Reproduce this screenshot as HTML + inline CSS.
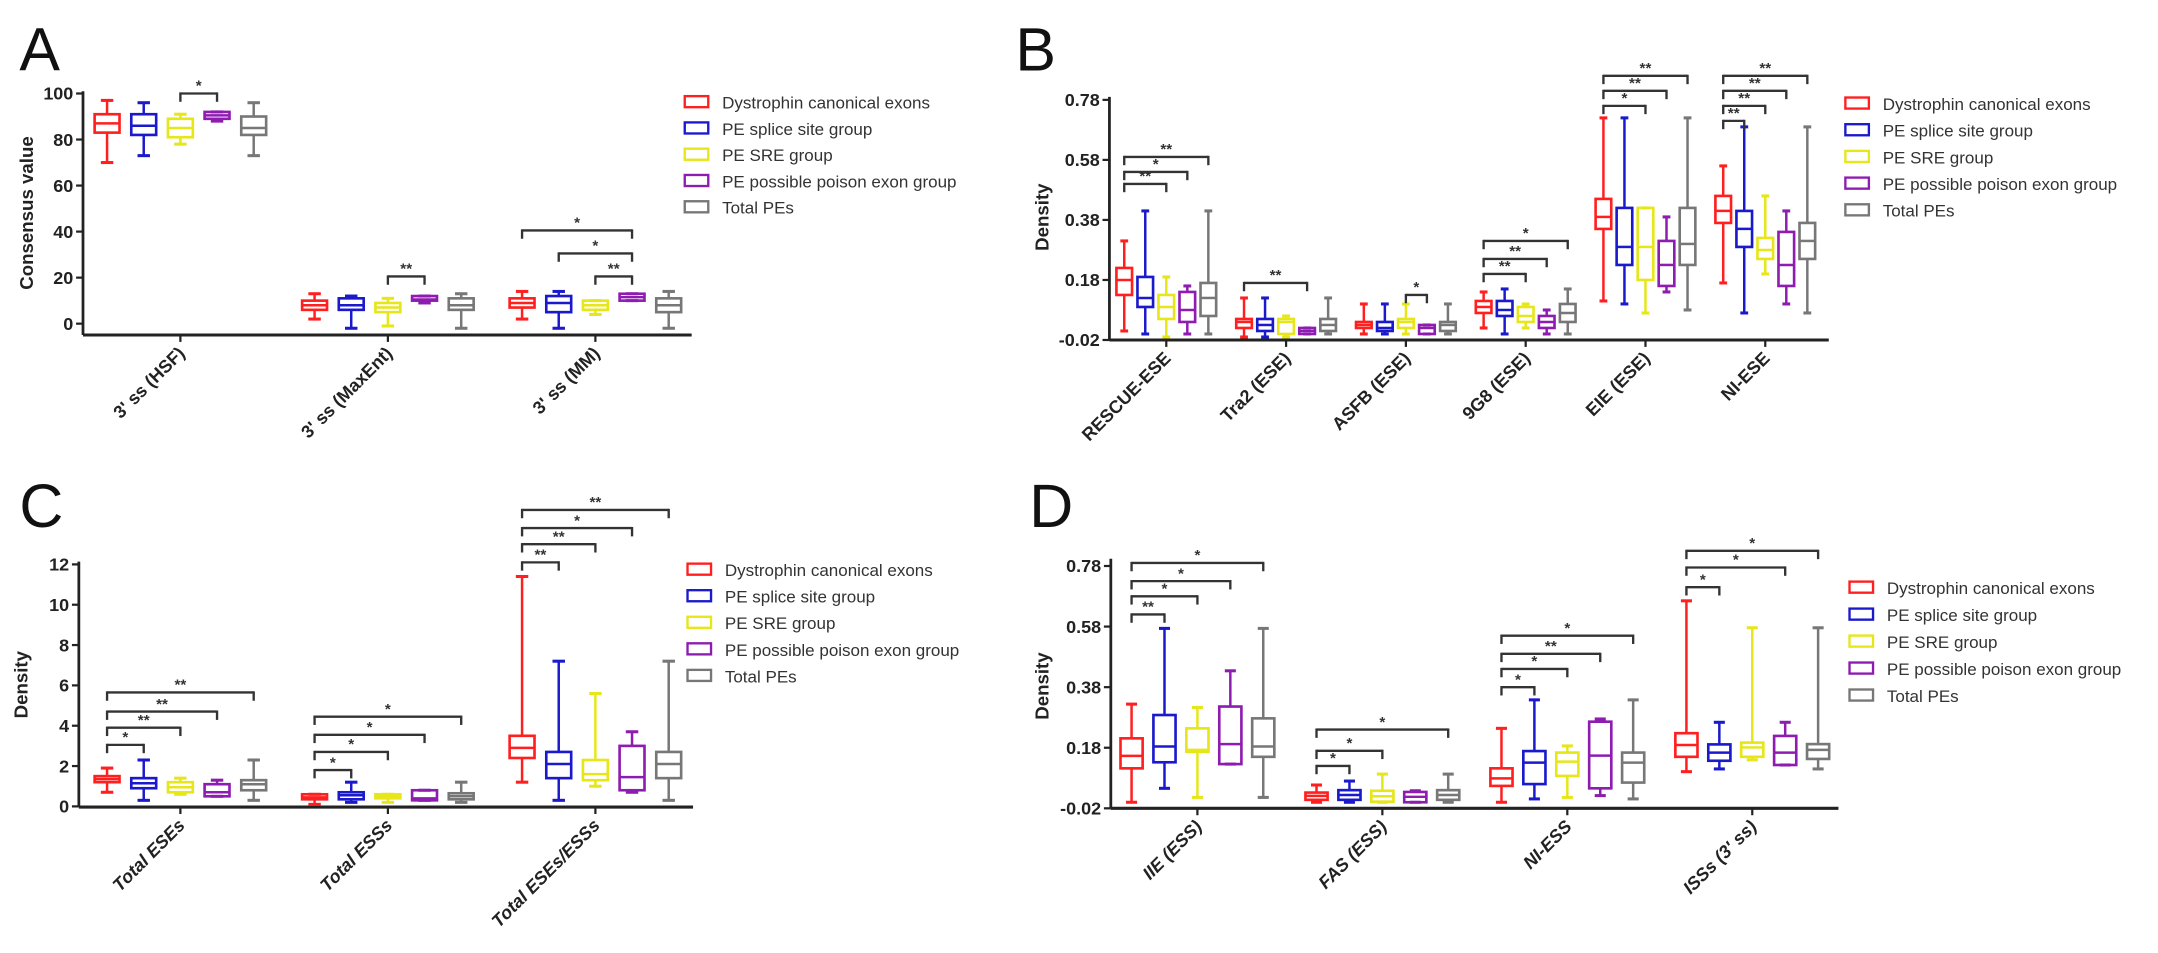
<!DOCTYPE html>
<html><head><meta charset="utf-8"><style>
html,body{margin:0;padding:0;background:#fff;}
svg{display:block;}
</style></head><body>
<svg id="s" xmlns="http://www.w3.org/2000/svg" width="2158" height="953" viewBox="0 0 1560 689" preserveAspectRatio="none" font-family="Liberation Sans, sans-serif"></svg>
<script>
var C=['#ff1f1f','#1a1acc','#e6e619','#8e1cb0','#777777'];
var out=[];
function L(x1,y1,x2,y2,c,w){out.push('<line x1="'+x1+'" y1="'+y1+'" x2="'+x2+'" y2="'+y2+'" stroke="'+c+'" stroke-width="'+w+'"/>');}
function T(x,y,t,o){out.push('<text x="'+x+'" y="'+y+'" '+(o||'')+'>'+t+'</text>');}
function panel(p){
  var Y=p.Y;
  L(p.ax,p.top,p.ax,p.bot,'#222',2);
  L(p.ax,p.bot,p.xr,p.bot,'#222',2.2);
  p.ticks.forEach(function(t){var y=Y(parseFloat(t));L(p.ax-5,y,p.ax,y,'#222',1.6);T(p.ax-7,y+4.5,t,'text-anchor="end" font-size="13" font-weight="bold" fill="#222"');});
  T(0,0,p.ylab,'transform="translate('+p.ylx+','+p.yly+') rotate(-90)" text-anchor="middle" font-size="13.5" font-weight="bold" fill="#222"');
  T(p.lx,p.ly,p.letter,'font-size="44" fill="#111"');
  p.groups.forEach(function(g,gi){
    var x0=p.r0+gi*p.gs, cx=x0+2*p.bs;
    L(cx,p.bot,cx,p.bot+5,'#222',1.6);
    T(0,0,g.n,'transform="translate('+(cx+4)+','+(p.bot+14)+') rotate(-45)" text-anchor="end" font-size="13" font-weight="bold" '+(p.it?'font-style="italic" ':'')+'fill="#222"');
    g.b.forEach(function(b,i){
      var x=x0+i*p.bs, w=p.bw, c=C[i];
      var y1=Y(b[0]),y2=Y(b[1]),q1=Y(b[2]),q3=Y(b[3]),m=Y(b[4]);
      L(x,y1,x,q1,c,1.8);L(x,y2,x,q3,c,1.8);
      L(x-w/4,y1,x+w/4,y1,c,2.2);L(x-w/4,y2,x+w/4,y2,c,2.2);
      out.push('<rect x="'+(x-w/2)+'" y="'+q3+'" width="'+w+'" height="'+Math.max(q1-q3,1)+'" fill="none" stroke="'+c+'" stroke-width="1.9"/>');
      L(x-w/2,m,x+w/2,m,c,1.8);
    });
    (g.s||[]).forEach(function(s){
      var xa=x0+s[0]*p.bs, xb=x0+s[1]*p.bs, y=Y(s[2]);
      L(xa,y,xb,y,'#333',1.7);L(xa,y-0.8,xa,y+6,'#333',1.7);L(xb,y-0.8,xb,y+6,'#333',1.7);
      T((xa+xb)/2,y-2,s[3],'text-anchor="middle" font-size="11" font-weight="bold" fill="#333"');
    });
  });
  var names=['Dystrophin canonical exons','PE splice site group','PE SRE group','PE possible poison exon group','Total PEs'];
  names.forEach(function(n,i){var y=p.leg[1]+i*p.leg[2];
    out.push('<rect x="'+p.leg[0]+'" y="'+(y-4.5)+'" width="17" height="8" fill="none" stroke="'+C[i]+'" stroke-width="1.7"/>');
    T(p.leg[0]+27,y+4.5,n,'font-size="12.3" fill="#333"');});
}
panel({letter:'A',lx:14,ly:51,ax:60,top:66,bot:242.2,xr:500,ylab:'Consensus value',ylx:24,yly:154,
 Y:function(v){return 234-v*1.664;},ticks:[0,20,40,60,80,100],r0:77.4,gs:150,bs:26.5,bw:18,
 leg:[495,74,19],
 groups:[
 {n:"3' ss (HSF)",b:[[70,97,83,91,87],[73,96,82,91,86],[78,91,81,89,85],[88,92,89,92,90.5],[73,96,82,90,85]],s:[[2,3,100,'*']]},
 {n:"3' ss (MaxEnt)",b:[[2,13,6,10,8],[-2,12,6,11,8],[-1,11,5,9,7],[9,12,10,12,10.5],[-2,13,6,11,8]],s:[[2,3,20.5,'**']]},
 {n:"3' ss (MM)",b:[[2,14,7,11,9],[-2,14,5,12,9],[4,10,6,10,8],[10,13,10,13,11.5],[-2,14,5,11,8]],s:[[0,3,40.5,'*'],[1,3,30.5,'*'],[2,3,20.5,'**']]}
 ]});
panel({letter:'B',lx:734,ly:51,ax:802,top:70,bot:245.8,xr:1322,ylab:'Density',ylx:758,yly:157,
 Y:function(v){return 245.8-(v+0.02)*217;},ticks:['-0.02','0.18','0.38','0.58','0.78'],r0:812.7,gs:86.6,bs:15.2,bw:11.3,
 leg:[1334,75,19.3],
 groups:[
 {n:'RESCUE-ESE',b:[[0.01,0.31,0.13,0.22,0.18],[0,0.41,0.09,0.19,0.12],[-0.01,0.19,0.05,0.13,0.09],[0,0.16,0.04,0.14,0.08],[0,0.41,0.06,0.17,0.12]],s:[[0,2,0.5,'**'],[0,3,0.54,'*'],[0,4,0.59,'**']]},
 {n:'Tra2 (ESE)',b:[[-0.01,0.12,0.02,0.05,0.04],[-0.01,0.12,0.01,0.05,0.03],[-0.01,0.06,0,0.05,0.04],[0,0.02,0,0.02,0.01],[0,0.12,0.01,0.05,0.03]],s:[[0,3,0.17,'**']]},
 {n:'ASFB (ESE)',b:[[0,0.1,0.02,0.04,0.03],[0,0.1,0.01,0.04,0.02],[0,0.1,0.02,0.05,0.04],[0,0.03,0,0.03,0.02],[0,0.1,0.01,0.04,0.03]],s:[[2,3,0.13,'*']]},
 {n:'9G8 (ESE)',b:[[0.02,0.14,0.07,0.11,0.09],[0,0.15,0.06,0.11,0.08],[0.02,0.1,0.04,0.09,0.06],[0,0.08,0.02,0.06,0.04],[0,0.15,0.04,0.1,0.07]],s:[[0,2,0.2,'**'],[0,3,0.25,'**'],[0,4,0.31,'*']]},
 {n:'EIE (ESE)',b:[[0.11,0.72,0.35,0.45,0.39],[0.1,0.72,0.23,0.42,0.29],[0.07,0.42,0.18,0.42,0.29],[0.14,0.39,0.16,0.31,0.23],[0.08,0.72,0.23,0.42,0.3]],s:[[0,2,0.76,'*'],[0,3,0.81,'**'],[0,4,0.86,'**']]},
 {n:'NI-ESE',b:[[0.17,0.56,0.37,0.46,0.41],[0.07,0.69,0.29,0.41,0.35],[0.2,0.46,0.25,0.32,0.28],[0.1,0.41,0.16,0.34,0.23],[0.07,0.69,0.25,0.37,0.31]],s:[[0,1,0.71,'**'],[0,2,0.76,'**'],[0,3,0.81,'**'],[0,4,0.86,'**']]}
 ]});
panel({letter:'C',lx:14,ly:381,ax:57,top:406,bot:583.5,xr:501,ylab:'Density',ylx:20,yly:495,
 Y:function(v){return 583-v*14.58;},ticks:[0,2,4,6,8,10,12],r0:77.4,gs:150,bs:26.5,bw:18,
 leg:[497,412,19.2],it:true,
 groups:[
 {n:'Total ESEs',b:[[0.7,1.9,1.2,1.5,1.35],[0.3,2.3,0.9,1.4,1.15],[0.6,1.4,0.7,1.2,0.95],[0.5,1.3,0.5,1.1,0.7],[0.3,2.3,0.8,1.3,1.1]],s:[[0,1,3.05,'*'],[0,2,3.9,'**'],[0,3,4.7,'**'],[0,4,5.65,'**']]},
 {n:'Total ESSs',b:[[0.1,0.6,0.35,0.6,0.45],[0.2,1.2,0.35,0.7,0.55],[0.2,0.6,0.4,0.6,0.5],[0.3,0.8,0.3,0.8,0.4],[0.2,1.2,0.35,0.65,0.5]],s:[[0,1,1.8,'*'],[0,2,2.7,'*'],[0,3,3.55,'*'],[0,4,4.45,'*']]},
 {n:'Total ESEs/ESSs',b:[[1.2,11.4,2.4,3.5,2.9],[0.3,7.2,1.4,2.7,2.1],[1,5.6,1.3,2.3,1.6],[0.7,3.7,0.8,3,1.45],[0.3,7.2,1.4,2.7,2.1]],s:[[0,1,12.1,'**'],[0,2,13,'**'],[0,3,13.8,'*'],[0,4,14.7,'**']]}
 ]});
panel({letter:'D',lx:744,ly:381,ax:803,top:404,bot:584.4,xr:1329,ylab:'Density',ylx:758,yly:496,
 Y:function(v){return 584.4-(v+0.02)*219;},ticks:['-0.02','0.18','0.38','0.58','0.78'],r0:818,gs:133.7,bs:23.8,bw:16,
 leg:[1337,425,19.5],it:true,
 groups:[
 {n:'IIE (ESS)',b:[[0,0.324,0.112,0.211,0.153],[0.046,0.574,0.132,0.288,0.184],[0.016,0.313,0.167,0.244,0.173],[0.126,0.434,0.126,0.316,0.192],[0.016,0.574,0.15,0.277,0.184]],s:[[0,1,0.62,'**'],[0,2,0.68,'*'],[0,3,0.73,'*'],[0,4,0.79,'*']]},
 {n:'FAS (ESS)',b:[[0,0.057,0.008,0.032,0.021],[0,0.07,0.008,0.04,0.024],[0,0.093,0.002,0.038,0.02],[0,0.038,0,0.034,0.018],[0,0.093,0.008,0.04,0.024]],s:[[0,1,0.12,'*'],[0,2,0.17,'*'],[0,4,0.24,'*']]},
 {n:'NI-ESS',b:[[0,0.244,0.054,0.112,0.079],[0.011,0.338,0.06,0.169,0.131],[0.016,0.186,0.087,0.164,0.134],[0.022,0.275,0.046,0.266,0.154],[0.011,0.338,0.065,0.164,0.131]],s:[[0,1,0.38,'*'],[0,2,0.44,'*'],[0,3,0.49,'**'],[0,4,0.55,'*']]},
 {n:"ISSs (3' ss)",b:[[0.101,0.665,0.15,0.228,0.189],[0.11,0.264,0.137,0.191,0.164],[0.14,0.576,0.15,0.197,0.181],[0.123,0.264,0.123,0.219,0.164],[0.11,0.576,0.143,0.192,0.173]],s:[[0,1,0.71,'*'],[0,3,0.775,'*'],[0,4,0.83,'*']]}
 ]});
document.getElementById('s').innerHTML=out.join('');
</script>
</body></html>
